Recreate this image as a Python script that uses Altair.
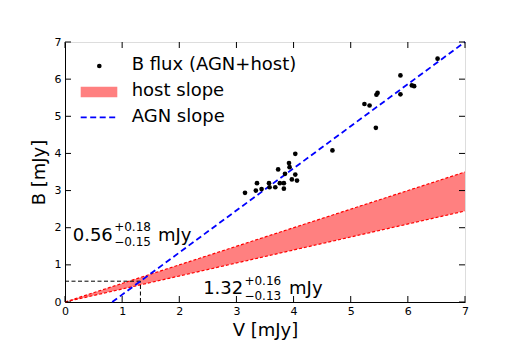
import altair as alt
import pandas as pd

# B flux (AGN+host) measurements
flux_v = [3.15, 3.34, 3.36, 3.44, 3.57, 3.58, 3.68, 3.73, 3.76, 3.83, 3.83, 3.85, 3.92, 3.93, 3.97,
          4.03, 4.06, 4.03, 4.68, 5.24, 5.33, 5.44, 5.45, 5.47, 5.87, 5.87, 6.07, 6.11, 6.52]
flux_b = [2.94, 3.00, 3.20, 3.04, 3.20, 3.09, 3.09, 3.57, 3.20, 3.20, 3.05, 3.45, 3.74, 3.63, 3.30,
          3.43, 3.27, 3.99, 4.08, 5.33, 5.29, 4.69, 5.58, 5.63, 6.10, 5.59, 5.83, 5.81, 6.55]

# host slope band (endpoints)
host_v = [0.0, 7.0]
host_low = [0.0, 2.45]
host_high = [0.0, 3.50]

# AGN slope line (endpoints)
agn_v = [0.826, 7.0]
agn_b = [0.0, 7.0]

# host flux at intersection
host_V = 1.32
host_B = 0.56

ticks = [0, 1, 2, 3, 4, 5, 6, 7]

W, H = 400, 260
FONT = "DejaVu Sans"

xs = alt.Scale(domain=[0, 7], nice=False, zero=False)
ys = alt.Scale(domain=[0, 7], nice=False, zero=False)
xaxis = alt.Axis(values=ticks, ticks=False, grid=False, labelFontSize=11, labelPadding=3,
                 titleFontSize=18, titleFontWeight="normal", titlePadding=5, labelFlush=False,
                 domainColor="black", labelColor="black", titleColor="black")
yaxis = alt.Axis(values=ticks, ticks=False, grid=False, labelFontSize=11, labelPadding=4,
                 titleFontSize=18, titleFontWeight="normal", titlePadding=6, labelFlush=False,
                 domainColor="black", labelColor="black", titleColor="black")


def X(field="V"):
    return alt.X(f"{field}:Q", scale=xs, axis=xaxis, title="V [mJy]")


def Y(field="B"):
    return alt.Y(f"{field}:Q", scale=ys, axis=yaxis, title="B [mJy]")


pts = pd.DataFrame({"V": flux_v, "B": flux_b})
band = pd.DataFrame({"V": host_v, "B": host_low, "B2": host_high})
agn = pd.DataFrame({"V": agn_v, "B": agn_b})
hline = pd.DataFrame({"V": [0, host_V], "B": [host_B, host_B]})
vline = pd.DataFrame({"V": [host_V, host_V], "B": [0, host_B]})
tk = pd.DataFrame({"V": ticks, "B": ticks})

area = alt.Chart(band).mark_area(color="#ff8080", opacity=1).encode(
    x=X(), y=Y(), y2="B2:Q")
edge_lo = alt.Chart(band).mark_line(color="red", strokeWidth=1.2, strokeDash=[3, 2]).encode(
    x=X(), y=Y("B"))
edge_hi = alt.Chart(band).mark_line(color="red", strokeWidth=1.2, strokeDash=[3, 2]).encode(
    x=X(), y=Y("B2"))
agn_line = alt.Chart(agn).mark_line(color="#0000ff", strokeWidth=1.8, strokeDash=[6, 3.5]).encode(
    x=X(), y=Y())
h_l = alt.Chart(hline).mark_line(color="black", strokeWidth=1, strokeDash=[4, 2.5]).encode(x=X(), y=Y())
v_l = alt.Chart(vline).mark_line(color="black", strokeWidth=1, strokeDash=[4, 2.5]).encode(x=X(), y=Y())
points = alt.Chart(pts).mark_circle(color="black", size=22, opacity=1).encode(x=X(), y=Y())

# inward ticks on all four sides
t_bot = alt.Chart(tk).mark_rule(color="black", strokeWidth=1).encode(
    x=X(), y=alt.value(H), y2=alt.value(H - 6))
t_top = alt.Chart(tk).mark_rule(color="black", strokeWidth=1).encode(
    x=X(), y=alt.value(0), y2=alt.value(6))
t_left = alt.Chart(tk).mark_rule(color="black", strokeWidth=1).encode(
    y=Y(), x=alt.value(0), x2=alt.value(6))
t_right = alt.Chart(tk).mark_rule(color="black", strokeWidth=1).encode(
    y=Y(), x=alt.value(W), x2=alt.value(W - 6))

# annotations
ann_main = pd.DataFrame({"V": [0.135, 1.626, 2.418, 3.921], "B": [1.63, 1.63, 0.221, 0.221],
                         "t": ["0.56", "mJy", "1.32", "mJy"]})
ann_small = pd.DataFrame({"V": [0.86, 0.86, 3.14, 3.14], "B": [1.91, 1.51, 0.46, 0.065],
                          "t": ["+0.18", "\u22120.15", "+0.16", "\u22120.13"]})
txt_main = alt.Chart(ann_main).mark_text(align="left", baseline="alphabetic", fontSize=18,
                                         font=FONT, color="black").encode(x=X(), y=Y(), text="t:N")
txt_small = alt.Chart(ann_small).mark_text(align="left", baseline="alphabetic", fontSize=12,
                                           font=FONT, color="black").encode(x=X(), y=Y(), text="t:N")

# manual legend
one = pd.DataFrame({"a": [0]})
leg_dot = alt.Chart(one).mark_circle(color="black", size=22, opacity=1).encode(
    x=alt.value(34.3), y=alt.value(24))
leg_rect = alt.Chart(one).mark_rect(color="#ff8080").encode(
    x=alt.value(15.7), x2=alt.value(52.3), y=alt.value(44.7), y2=alt.value(55.3))
leg_line = alt.Chart(one).mark_rule(color="#0000ff", strokeWidth=1.8, strokeDash=[6, 3.5]).encode(
    x=alt.value(15.7), x2=alt.value(52.3), y=alt.value(75.3))
leg_labels = ["B flux (AGN+host)", "host slope", "AGN slope"]
leg_y = [23, 49, 75]
leg_txt = alt.layer(*[
    alt.Chart(one).mark_text(align="left", baseline="middle", fontSize=18, font=FONT,
                             color="black", text=lab).encode(x=alt.value(66.7), y=alt.value(yy))
    for lab, yy in zip(leg_labels, leg_y)
])

chart = alt.layer(
    area, edge_lo, edge_hi, h_l, v_l, agn_line, points,
    t_bot, t_top, t_left, t_right,
    txt_main, txt_small,
    leg_dot, leg_rect, leg_line, leg_txt,
).properties(
    width=W, height=H,
    autosize=alt.AutoSizeParams(type="none"),
    padding={"left": 57, "top": 34, "right": 45, "bottom": 40},
).configure_view(
    stroke="black", strokeWidth=1
).configure(font=FONT)

chart.save("out.html", embed_options={"renderer": "svg", "actions": False})
